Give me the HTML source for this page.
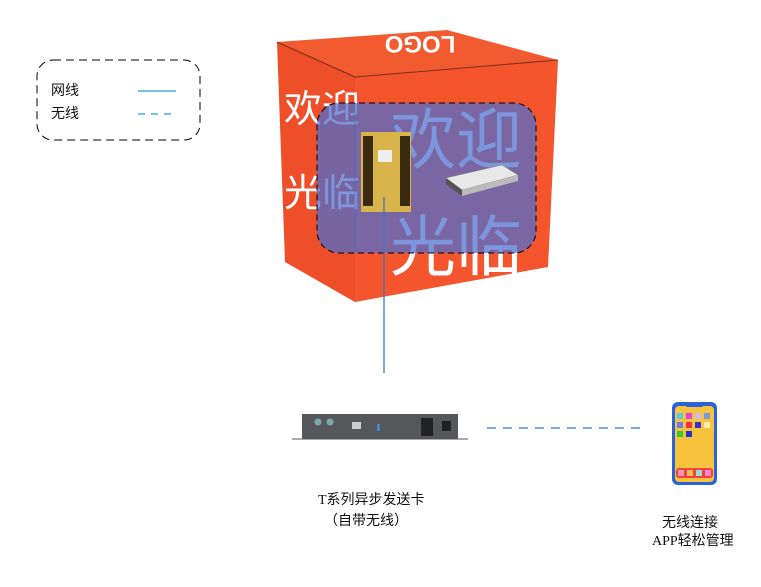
<!DOCTYPE html>
<html><head><meta charset="utf-8"><style>
body{margin:0;background:#fff;width:761px;height:587px;overflow:hidden;position:relative;font-family:"Liberation Sans","Noto Sans CJK SC",sans-serif}
.t{position:absolute;font-size:14px;color:#111}
</style></head><body>
<svg width="761" height="587" style="position:absolute;left:0;top:0">
<rect x="37" y="60" width="163" height="80" rx="16" fill="none" stroke="#000" stroke-dasharray="8,5"/>
<line x1="138" y1="91" x2="176" y2="91" stroke="#1e9be8" stroke-width="1.2"/>
<line x1="138" y1="114" x2="176" y2="114" stroke="#1e9be8" stroke-width="1.2" stroke-dasharray="7,6"/>
<polygon points="277,42 447,30 558,60 355,77" fill="#f25a30"/>
<polygon points="277,42 355,77 355,302 285,262" fill="#ee4e28"/>
<polygon points="355,77 558,60 548,267 355,302" fill="#f4552d"/>
<line x1="277" y1="42" x2="355" y2="77" stroke="#7a3020"/>
<line x1="355" y1="77" x2="558" y2="60" stroke="#7a3020"/>
<text x="420" y="52" font-size="24" fill="#fff" font-weight="bold" text-anchor="middle" transform="rotate(180 420 44)">LOGO</text>
<text x="284" y="122" font-size="38" fill="#fff" font-family="Noto Sans CJK SC">欢迎</text>
<text x="284" y="206" font-size="38" fill="#fff" font-family="Noto Sans CJK SC">光临</text>
<text x="390" y="163" font-size="66" fill="#fff" font-family="Noto Sans CJK SC">欢迎</text>
<text x="390" y="270" font-size="66" fill="#fff" font-family="Noto Sans CJK SC">光临</text>
<rect x="317" y="103" width="219" height="150" rx="22" fill="#4a6ed0" fill-opacity="0.72" stroke="#000" stroke-dasharray="6,4"/>
<line x1="355" y1="103" x2="355" y2="253" stroke="#3a6ab0" stroke-opacity="0.6"/>
<rect x="361" y="132" width="50" height="80" fill="#d9b44a"/>
<rect x="363" y="136" width="10" height="70" fill="#3a2a10"/>
<rect x="400" y="136" width="10" height="70" fill="#3a2a10"/>
<rect x="378" y="150" width="14" height="12" fill="#eee"/>
<polygon points="446,178 502,165 518,175 462,190" fill="#e8e8e8" stroke="#888" stroke-width="0.6"/>
<polygon points="446,178 462,190 462,196 446,184" fill="#555"/>
<polygon points="462,190 518,175 518,181 462,196" fill="#bbb"/>
<line x1="384" y1="197" x2="384" y2="373" stroke="#3a7ac0" stroke-width="1.3"/>
<rect x="292" y="438" width="176" height="2" fill="#aaa"/>
<rect x="302" y="414" width="156" height="25" fill="#55575a"/>
<circle cx="318" cy="422" r="3.5" fill="#7aa"/><circle cx="330" cy="422" r="3.5" fill="#7aa"/>
<rect x="352" y="422" width="9" height="7" fill="#ccc"/>
<rect x="377" y="424" width="3" height="7" fill="#48c"/>
<rect x="421" y="418" width="12" height="18" fill="#222"/>
<rect x="442" y="421" width="9" height="10" fill="#222"/>
<line x1="487" y1="428" x2="643" y2="428" stroke="#1e7fd0" stroke-width="1.3" stroke-dasharray="9,7"/>
<rect x="672" y="402" width="45" height="83" rx="6" fill="#2b62d9"/>
<rect x="675" y="406" width="39" height="76" rx="4" fill="#f7c23c"/>
<rect x="686" y="404" width="17" height="3" rx="1.5" fill="#2b62d9"/>
<rect x="677" y="413" width="6" height="6" fill="#5ce"/><rect x="686" y="413" width="6" height="6" fill="#d4d"/><rect x="695" y="413" width="6" height="6" fill="#cbe"/><rect x="704" y="413" width="6" height="6" fill="#79d"/>
<rect x="677" y="422" width="6" height="6" fill="#77e"/><rect x="686" y="422" width="6" height="6" fill="#e34"/><rect x="695" y="422" width="6" height="6" fill="#33c"/><rect x="704" y="422" width="6" height="6" fill="#fea"/>
<rect x="677" y="431" width="6" height="6" fill="#3c3"/><rect x="686" y="431" width="6" height="6" fill="#23c"/>
<rect x="676" y="468" width="37" height="10" rx="3" fill="#e44"/>
<rect x="678" y="470" width="6" height="6" fill="#f9a"/><rect x="687" y="470" width="6" height="6" fill="#fb5"/><rect x="696" y="470" width="6" height="6" fill="#9dc"/><rect x="705" y="470" width="6" height="6" fill="#f8c"/>
</svg>
<div class="t" style="left:51px;top:80px">网线</div>
<div class="t" style="left:51px;top:103px">无线</div>
<div class="t" style="left:318px;top:489px;font-family:'Liberation Serif','Noto Sans CJK SC',sans-serif">T系列异步发送卡</div>
<div class="t" style="left:324px;top:510px">（自带无线）</div>
<div class="t" style="left:662px;top:512px">无线连接</div>
<div class="t" style="left:652px;top:530px;font-family:'Liberation Serif','Noto Sans CJK SC',sans-serif">APP轻松管理</div>
</body></html>
